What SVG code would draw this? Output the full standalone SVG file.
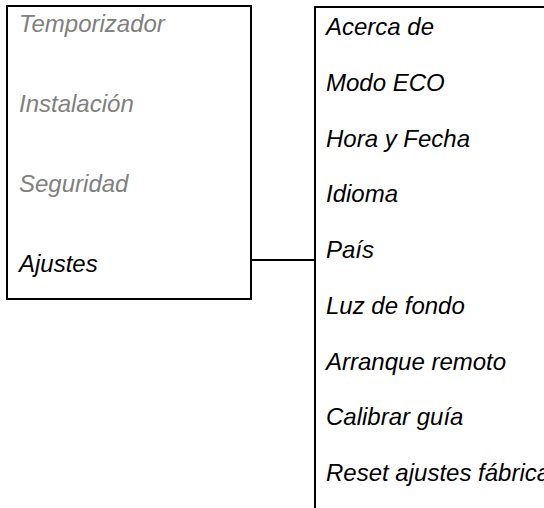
<svg xmlns="http://www.w3.org/2000/svg" width="544" height="508" viewBox="0 0 544 508">
  <style>
    .box { fill: #ffffff; stroke: #000000; stroke-width: 2; }
    .t { font-family: "Liberation Sans", Arial, sans-serif; font-size: 24px; font-style: italic; fill: #000000; }
    .dim { fill: #808080; }
    .conn { stroke: #000000; stroke-width: 2; fill: none; }
  </style>
  <rect width="544" height="508" fill="#ffffff"/>
  <g id="main-menu">
    <rect class="box" x="7" y="6" width="244" height="293"/>
    <text class="t dim" x="19" y="32">Temporizador</text>
    <text class="t dim" x="19" y="112">Instalación</text>
    <text class="t dim" x="19" y="191.5">Seguridad</text>
    <text class="t" x="19" y="272">Ajustes</text>
  </g>
  <g id="ajustes-menu">
    <rect class="box" x="315" y="7" width="240" height="510"/>
    <text class="t" x="326" y="35">Acerca de</text>
    <text class="t" x="326" y="90.8">Modo ECO</text>
    <text class="t" x="326" y="146.6">Hora y Fecha</text>
    <text class="t" x="326" y="202.4">Idioma</text>
    <text class="t" x="326" y="258.2">País</text>
    <text class="t" x="326" y="314">Luz de fondo</text>
    <text class="t" x="326" y="369.6">Arranque remoto</text>
    <text class="t" x="326" y="425.2">Calibrar guía</text>
    <text class="t" x="326" y="480.6">Reset ajustes fábrica</text>
  </g>
  <g id="connectors">
    <line class="conn" x1="252" y1="260" x2="314" y2="260"/>
  </g>
</svg>
